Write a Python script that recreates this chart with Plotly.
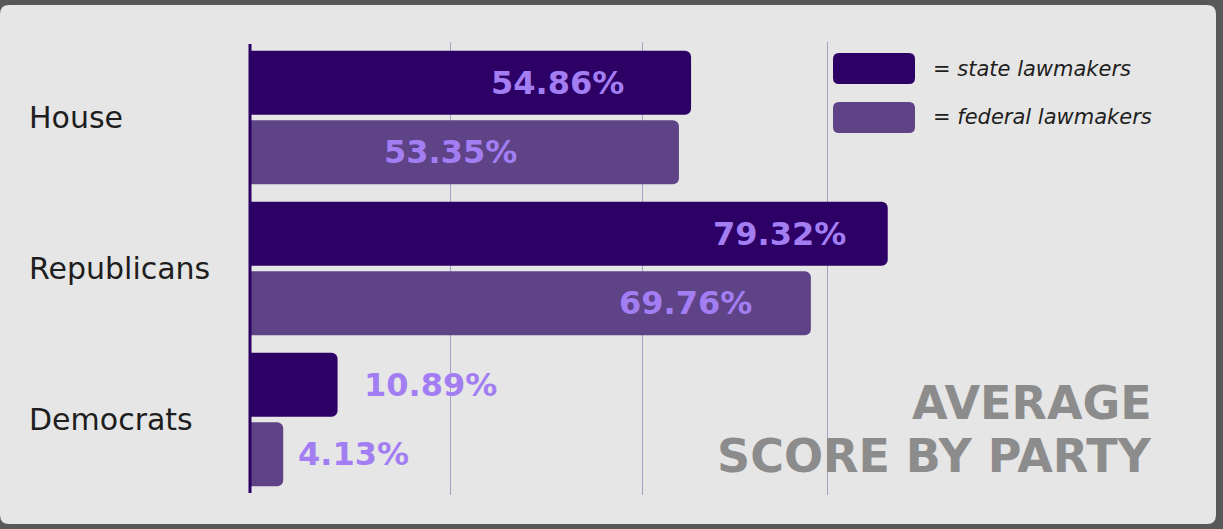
import plotly.graph_objects as go

# ---- data ----
categories = ["House", "Republicans", "Democrats"]
state_values = [54.86, 79.32, 10.89]
federal_values = [53.35, 69.76, 4.13]
series_names = ["= state lawmakers", "= federal lawmakers"]
title_lines = ["AVERAGE", "SCORE BY PARTY"]
grid_values = [24.9, 48.8, 71.8]

# ---- style ----
W, H = 1223, 529
ML, MR, MT, MB = 250, 169, 42, 34
X_MAX = 100
PW = W - ML - MR
PH = H - MT - MB
STATE_COLOR = "#2d0066"
FED_COLOR = "#5f4387"
LABEL_COLOR = "#a37ef3"
BARGAP = 0.08
GROUPGAP = 0.08
# horizontal label offsets (px) from bar end, label centered
state_shift = [-134, -108, 93]
fed_shift = [-228, -125, 70]


def px_x(px):
    return (px - ML) / PW


def px_y(py):
    return (H - MB - py) / PH


def rounded_rect(x0, y0, x1, y1, r):
    # pixel coords -> paper path
    rx = r / PW
    ry = r / PH
    X0, X1 = px_x(x0), px_x(x1)
    Y0, Y1 = px_y(y0), px_y(y1)  # Y0 top, Y1 bottom
    return (f"M {X0+rx},{Y0} L {X1-rx},{Y0} Q {X1},{Y0} {X1},{Y0-ry} "
            f"L {X1},{Y1+ry} Q {X1},{Y1} {X1-rx},{Y1} L {X0+rx},{Y1} "
            f"Q {X0},{Y1} {X0},{Y1+ry} L {X0},{Y0-ry} Q {X0},{Y0} {X0+rx},{Y0} Z")


fig = go.Figure()
fig.add_trace(go.Bar(y=categories, x=state_values, orientation="h",
                     name=series_names[0], marker=dict(color=STATE_COLOR, line=dict(width=0)),
                     hoverinfo="skip"))
fig.add_trace(go.Bar(y=categories, x=federal_values, orientation="h",
                     name=series_names[1], marker=dict(color=FED_COLOR, line=dict(width=0)),
                     hoverinfo="skip"))

shapes = []
# panel
shapes.append(dict(type="path", xref="paper", yref="paper", layer="below",
                   path=rounded_rect(0, 5, 1216, 524, 9),
                   fillcolor="#e6e6e6", line=dict(width=0)))
# value axis line
shapes.append(dict(type="line", xref="paper", yref="paper", layer="above",
                   x0=0, x1=0, y0=px_y(493), y1=px_y(44),
                   line=dict(color="#2b0062", width=3)))
# legend swatches
for (y0, y1), col in zip([(53, 84), (102, 133)], [STATE_COLOR, FED_COLOR]):
    shapes.append(dict(type="path", xref="paper", yref="paper", layer="above",
                       path=rounded_rect(833, y0, 915, y1, 6),
                       fillcolor=col, line=dict(width=0)))

annotations = []
off = (1 - BARGAP) / 4
for i, cat in enumerate(categories):
    annotations.append(dict(x=px_x(27), xref="paper", y=i, yref="y", text=cat,
                            showarrow=False, xanchor="left", yanchor="middle",
                            font=dict(family="DejaVu Sans", size=30, color="#1e1e1e")))
    annotations.append(dict(x=state_values[i], xref="x", y=i - off, yref="y",
                            text=f"{state_values[i]:.2f}%", showarrow=False,
                            xanchor="center", yanchor="middle", xshift=state_shift[i],
                            font=dict(family="DejaVu Sans", size=32, color=LABEL_COLOR, weight="bold")))
    annotations.append(dict(x=federal_values[i], xref="x", y=i + off, yref="y",
                            text=f"{federal_values[i]:.2f}%", showarrow=False,
                            xanchor="center", yanchor="middle", xshift=fed_shift[i],
                            font=dict(family="DejaVu Sans", size=32, color=LABEL_COLOR, weight="bold")))

for name, yc in zip(series_names, [69, 117]):
    annotations.append(dict(x=px_x(931), xref="paper", y=px_y(yc), yref="paper", text=name,
                            showarrow=False, xanchor="left", yanchor="middle",
                            font=dict(family="DejaVu Sans", size=21, color="#1e1e1e", style="italic")))

for line, (xc, yc) in zip(title_lines, [(1032, 403), (934, 456)]):
    annotations.append(dict(x=px_x(xc), xref="paper", y=px_y(yc), yref="paper", text=line,
                            showarrow=False, xanchor="center", yanchor="middle",
                            font=dict(family="DejaVu Sans", size=46, color="#8c8c8c", weight="bold")))

fig.update_layout(
    width=W, height=H,
    margin=dict(l=ML, r=MR, t=MT, b=MB, pad=0),
    paper_bgcolor="#585858",
    plot_bgcolor="rgba(0,0,0,0)",
    barmode="group", bargap=BARGAP, bargroupgap=GROUPGAP,
    barcornerradius=6,
    showlegend=False,
    shapes=shapes, annotations=annotations,
    xaxis=dict(range=[0, X_MAX], tickvals=grid_values, showticklabels=False,
               showgrid=True, gridcolor="#a4a2c0", gridwidth=1, zeroline=False,
               showline=False, fixedrange=True),
    yaxis=dict(autorange="reversed", showticklabels=False, showgrid=False,
               showline=False, zeroline=False, ticks="", fixedrange=True),
)

fig.write_html("out.html", config={"displayModeBar": False},
               post_script="document.body.style.margin='0';document.body.style.overflow='hidden';")
